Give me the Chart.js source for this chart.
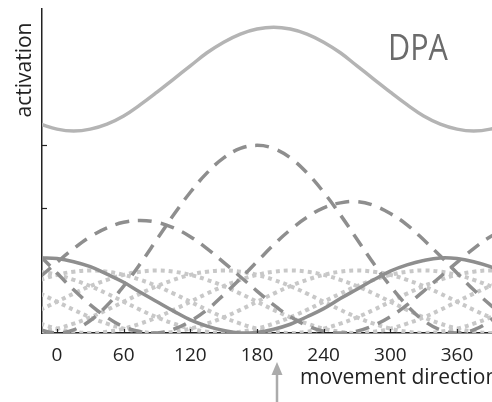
<!DOCTYPE html>
<html lang="en">
<head>
    <meta charset="UTF-8">
    <title>DPA tuning</title>
    <script src="https://cdn.jsdelivr.net/npm/chart.js"></script>
    <style>
        html, body { margin: 0; padding: 0; background: #fff; }
        canvas { display: block; }
    </style>
</head>
<body>
    <canvas id="myChart" width="492" height="402"></canvas>

    <script>
        // movement direction (deg), sampled every 15
        const directions = [-15, 0, 15, 30, 45, 60, 75, 90, 105, 120, 135, 150, 165, 180, 195, 210,
            225, 240, 255, 270, 285, 300, 315, 330, 345, 360, 375, 390, 405];
        const xTickValues = [0, 60, 120, 180, 240, 300, 360];
        const yTickValues = [2, 3];

        // population activity (top curve)
        const dpa = [3.34, 3.26, 3.23, 3.26, 3.34, 3.47, 3.65, 3.85, 4.06, 4.27, 4.48, 4.65, 4.78, 4.86,
            4.89, 4.86, 4.78, 4.65, 4.48, 4.27, 4.06, 3.85, 3.65, 3.47, 3.34, 3.26, 3.23, 3.26, 3.34];

        // highlighted cell (solid dark)
        const cellSolid = [1.20, 1.19, 1.14, 1.06, 0.94, 0.81, 0.65, 0.50, 0.35, 0.21, 0.11, 0.04, 0.00, 0.01,
            0.06, 0.14, 0.26, 0.39, 0.55, 0.70, 0.85, 0.99, 1.09, 1.16, 1.20, 1.19, 1.14, 1.06, 0.94];

        // dashed cells
        const dash180 = [0.05, 0, 0.05, 0.20, 0.44, 0.75, 1.11, 1.50, 1.89, 2.25, 2.56, 2.80, 2.95, 3.00,
            2.95, 2.80, 2.56, 2.25, 1.89, 1.50, 1.11, 0.75, 0.44, 0.20, 0.05, 0, 0.05, 0.20, 0.44];
        const dash75 = [0.90, 1.13, 1.35, 1.54, 1.68, 1.77, 1.80, 1.77, 1.68, 1.54, 1.35, 1.13, 0.90, 0.67,
            0.45, 0.26, 0.12, 0.03, 0, 0.03, 0.12, 0.26, 0.45, 0.67, 0.90, 1.13, 1.35, 1.54, 1.68];
        const dash265 = [1.23, 0.96, 0.69, 0.45, 0.25, 0.10, 0.02, 0, 0.06, 0.19, 0.37, 0.61, 0.87, 1.14,
            1.41, 1.65, 1.85, 2.00, 2.08, 2.10, 2.04, 1.91, 1.73, 1.49, 1.23, 0.96, 0.69, 0.45, 0.25];

        // dotted cells
        const dot330 = [.98, .93, .85, .75, .63, .50, .37, .25, .15, .07, .02, 0, .02, .07, .15,
            .25, .37, .50, .63, .75, .85, .93, .98, 1, .98, .93, .85, .75, .63];
        const dot30 = [.85, .93, .98, 1, .98, .93, .85, .75, .63, .50, .37, .25, .15, .07, .02,
            0, .02, .07, .15, .25, .37, .50, .63, .75, .85, .93, .98, 1, .98];
        const dot90 = [.37, .50, .63, .75, .85, .93, .98, 1, .98, .93, .85, .75, .63, .50, .37,
            .25, .15, .07, .02, 0, .02, .07, .15, .25, .37, .50, .63, .75, .85];
        const dot150 = [.02, .07, .15, .25, .37, .50, .63, .75, .85, .93, .98, 1, .98, .93, .85,
            .75, .63, .50, .37, .25, .15, .07, .02, 0, .02, .07, .15, .25, .37];
        const dot210 = [.15, .07, .02, 0, .02, .07, .15, .25, .37, .50, .63, .75, .85, .93, .98,
            1, .98, .93, .85, .75, .63, .50, .37, .25, .15, .07, .02, 0, .02];
        const dot270 = [.63, .50, .37, .25, .15, .07, .02, 0, .02, .07, .15, .25, .37, .50, .63,
            .75, .85, .93, .98, 1, .98, .93, .85, .75, .63, .50, .37, .25, .15];

        const FONT = '"Open Sans", sans-serif';
        const pts = arr => arr.map((y, i) => ({ x: directions[i], y: y }));

        const dotted = { borderColor: '#c8c8c8', borderWidth: 4, borderDash: [4, 4], order: 3 };
        const dashed = { borderColor: '#8e8e8e', borderWidth: 3.5, borderDash: [14, 9], order: 2 };

        // extra drawing: inside tick marks, labels, arrow
        const decorations = {
            id: 'decorations',
            afterDraw(chart) {
                const ctx = chart.ctx;
                const xs = chart.scales.x, ys = chart.scales.y;
                const area = chart.chartArea;
                ctx.save();
                ctx.strokeStyle = '#222';
                ctx.lineWidth = 1.2;
                xTickValues.forEach(v => {
                    const px = Math.round(xs.getPixelForValue(v)) + 0.5;
                    ctx.beginPath();
                    ctx.moveTo(px, area.bottom);
                    ctx.lineTo(px, area.bottom - 4);
                    ctx.stroke();
                });
                yTickValues.forEach(v => {
                    const py = Math.round(ys.getPixelForValue(v)) + 0.5;
                    ctx.beginPath();
                    ctx.moveTo(area.left, py);
                    ctx.lineTo(area.left + 5, py);
                    ctx.stroke();
                });

                // DPA label, slightly condensed
                ctx.fillStyle = '#6b6b6b';
                ctx.font = '36px ' + FONT;
                ctx.textBaseline = 'alphabetic';
                ctx.textAlign = 'left';
                ctx.translate(388, 60);
                ctx.scale(0.85, 1);
                ctx.fillText('DPA', 0, 0);
                ctx.setTransform(1, 0, 0, 1, 0, 0);

                // y title
                ctx.fillStyle = '#222';
                ctx.font = '21px ' + FONT;
                ctx.translate(31, 70);
                ctx.rotate(-Math.PI / 2);
                ctx.textAlign = 'center';
                ctx.fillText('activation', 0, 0);
                ctx.setTransform(1, 0, 0, 1, 0, 0);

                // x title
                ctx.textAlign = 'left';
                ctx.fillText('movement direction', 300, 384);

                // arrow under the DPA peak
                const ax = Math.round(xs.getPixelForValue(198));
                ctx.strokeStyle = '#ababab';
                ctx.fillStyle = '#ababab';
                ctx.lineWidth = 2.5;
                ctx.beginPath();
                ctx.moveTo(ax, 402);
                ctx.lineTo(ax, 372);
                ctx.stroke();
                ctx.beginPath();
                ctx.moveTo(ax, 362);
                ctx.lineTo(ax - 5.5, 375);
                ctx.lineTo(ax + 5.5, 375);
                ctx.closePath();
                ctx.fill();
                ctx.restore();
            }
        };

        const ctx = document.getElementById('myChart').getContext('2d');
        const chart = new Chart(ctx, {
            type: 'line',
            data: {
                datasets: [
                    { data: pts(cellSolid), borderColor: '#8e8e8e', borderWidth: 3.5, order: 0 },
                    { data: pts(dpa), borderColor: '#b4b4b4', borderWidth: 3.5, order: 1 },
                    { data: pts(dash180), ...dashed },
                    { data: pts(dash75), ...dashed },
                    { data: pts(dash265), ...dashed },
                    { data: pts(dot330), ...dotted },
                    { data: pts(dot30), ...dotted },
                    { data: pts(dot90), ...dotted },
                    { data: pts(dot150), ...dotted },
                    { data: pts(dot210), ...dotted },
                    { data: pts(dot270), ...dotted }
                ]
            },
            options: {
                responsive: false,
                animation: false,
                layout: { padding: { top: 9, right: 0, left: 0, bottom: 0 } },
                plugins: { legend: { display: false }, tooltip: { enabled: false } },
                elements: {
                    point: { radius: 0 },
                    line: { tension: 0.4, fill: false, borderCapStyle: 'butt' }
                },
                scales: {
                    x: {
                        type: 'linear',
                        min: -13.5,
                        max: 391.5,
                        afterBuildTicks: s => { s.ticks = xTickValues.map(v => ({ value: v })); },
                        afterFit: s => { s.height = 69; },
                        grid: { display: false },
                        border: { display: true, color: '#222', width: 1.5 },
                        ticks: { color: '#222', padding: 3, maxRotation: 0, font: { family: FONT, size: 19 } }
                    },
                    y: {
                        min: 0,
                        max: 5.18,
                        afterFit: s => { s.width = 42; },
                        grid: { display: false },
                        border: { display: true, color: '#222', width: 1.5 },
                        ticks: { display: false }
                    }
                }
            },
            plugins: [decorations]
        });
    </script>
</body>
</html>
